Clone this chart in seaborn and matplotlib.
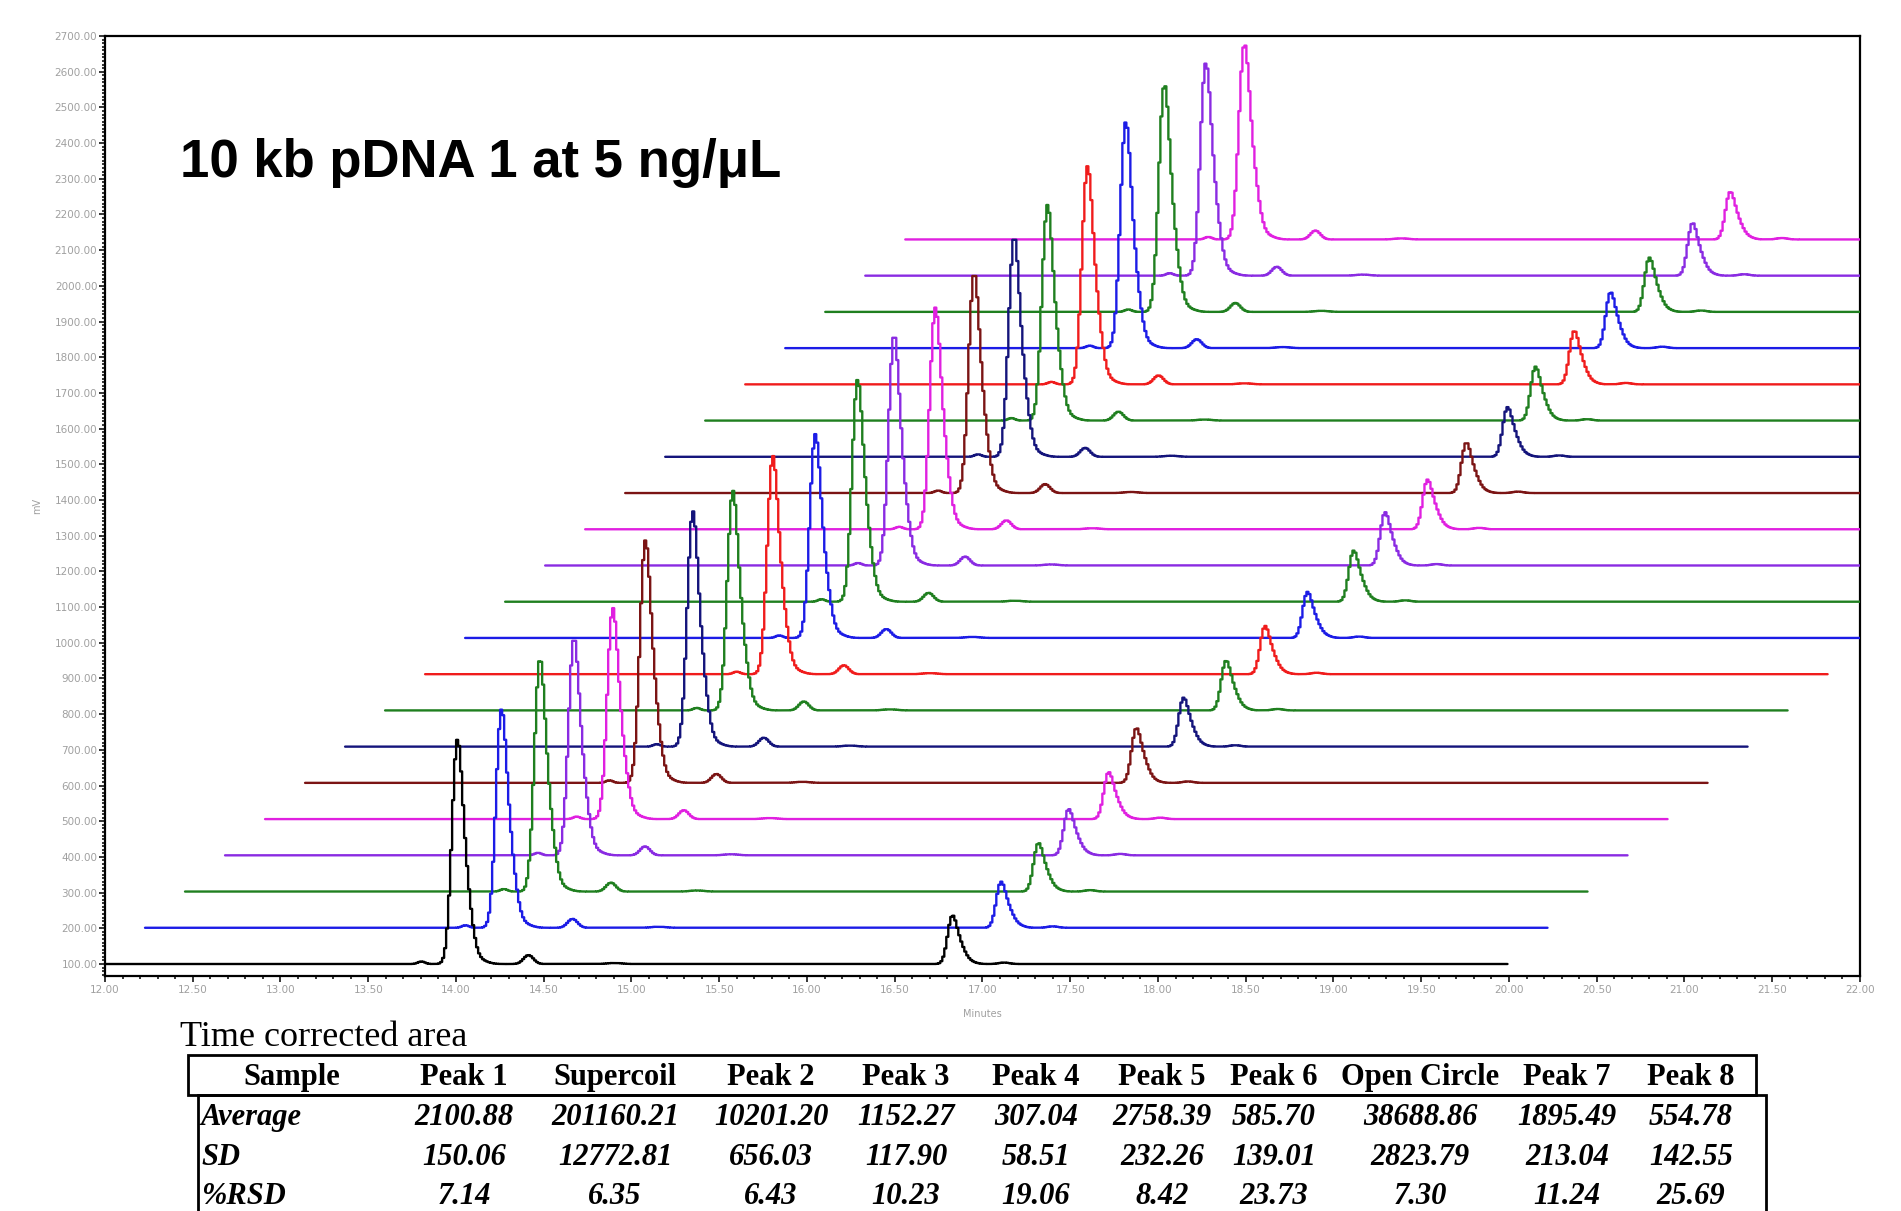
import numpy as np
import pandas as pd
import matplotlib
matplotlib.use('Agg')
import matplotlib.pyplot as plt
import seaborn as sns
from matplotlib.patches import Rectangle
from matplotlib.ticker import MultipleLocator, FormatStrFormatter

W, H = 1901, 1211

# 21 stacked CE runs, listed bottom to top
run_colors = ['#000000', '#1c1ce6', '#1f7f1f', '#8a2be2', '#e020e0', '#7b1414', '#14147b',
              '#1f7f1f', '#f01c1c', '#1c1ce6', '#1f7f1f', '#8a2be2', '#e020e0', '#7b1414',
              '#14147b', '#1f7f1f', '#f01c1c', '#1c1ce6', '#1f7f1f', '#8a2be2', '#e020e0']
supercoil_min = [14.003, 14.026, 14.017, 13.983, 13.976, 13.934, 13.976, 13.976, 13.976, 13.990,
                 14.003, 13.983, 13.990, 13.983, 13.983, 13.945, 13.945, 13.935, 13.927, 13.935, 13.927]
supercoil_mv = [628, 611, 645, 601, 591, 679, 659, 615, 611, 571,
                621, 638, 621, 608, 608, 604, 611, 632, 632, 594, 543]
open_circle_min = [16.823, 16.872, 16.857, 16.801, 16.801, 16.731, 16.772, 16.786, 16.780, 16.794,
                   16.829, 16.780, 16.794, 16.787, 16.794, 16.725, 16.718, 16.697, 16.690, 16.708, 16.695]
open_circle_mv = [135, 129, 135, 129, 131, 152, 137, 138, 135, 129,
                  143, 149, 139, 139, 139, 151, 148, 155, 152, 146, 132]

# small peaks relative to the main ones: (offset min, height mV, width min)
sc_side_peaks = [(-0.20, 7, 0.02), (0.14, 9, 0.04), (0.41, 25, 0.028), (0.90, 3, 0.04)]
oc_side_peaks = [(0.10, 7, 0.035), (0.30, 4, 0.03)]

run_offset_mv = 101.5   # vertical stacking offset
run_offset_min = 0.228  # horizontal stacking offset
run_start, run_end = 12.0, 20.0

# table
table_columns = ['Sample', 'Peak 1', 'Supercoil', 'Peak 2', 'Peak 3', 'Peak 4', 'Peak 5',
                 'Peak 6', 'Open Circle', 'Peak 7', 'Peak 8']
row_labels = ['Average', 'SD', '%RSD']
area_avg = [2100.88, 201160.21, 10201.20, 1152.27, 307.04, 2758.39, 585.70, 38688.86, 1895.49, 554.78]
area_sd = [150.06, 12772.81, 656.03, 117.90, 58.51, 232.26, 139.01, 2823.79, 213.04, 142.55]
area_rsd = [7.14, 6.35, 6.43, 10.23, 19.06, 8.42, 23.73, 7.30, 11.24, 25.69]


def tailed_peak(t, t0, h, w, tail):
    main = np.exp(-0.5 * ((t - t0) / w) ** 2)
    back = tail * np.exp(-0.5 * ((t - t0 - 1.6 * w) / (1.3 * w)) ** 2)
    s = main + back
    return h * s / s.max()


t = np.arange(run_start, run_end + 1e-9, 0.0114)
frames = []
for i in range(len(run_colors)):
    y = np.zeros_like(t)
    y += tailed_peak(t, supercoil_min[i], supercoil_mv[i], 0.029, 0.45)
    y += tailed_peak(t, open_circle_min[i], open_circle_mv[i], 0.025, 0.55)
    for dt, hh, ww in sc_side_peaks:
        y += hh * np.exp(-0.5 * ((t - supercoil_min[i] - dt) / ww) ** 2)
    for dt, hh, ww in oc_side_peaks:
        y += hh * np.exp(-0.5 * ((t - open_circle_min[i] - dt) / ww) ** 2)
    frames.append(pd.DataFrame({'run': i,
                                'minutes': t + run_offset_min * i,
                                'mV': y + 100 + run_offset_mv * i}))
df = pd.concat(frames, ignore_index=True)

sns.set_style('white')
plt.rcParams['font.family'] = ['DejaVu Sans']
plt.rcParams['text.color'] = 'black'

fig = plt.figure(figsize=(W / 100, H / 100), dpi=100)
ax = fig.add_axes([105 / W, 1 - 976 / H, 1755 / W, 940 / H])

for i, c in enumerate(run_colors):
    sns.lineplot(data=df[df['run'] == i], x='minutes', y='mV', color=c, ax=ax,
                 estimator=None, sort=False, drawstyle='steps-mid', lw=1.7,
                 zorder=100 - i, legend=False)

ax.set_xlim(12, 22)
ax.set_ylim(66.4, 2700)
ax.xaxis.set_major_locator(MultipleLocator(0.5))
ax.xaxis.set_minor_locator(MultipleLocator(0.1))
ax.yaxis.set_major_locator(MultipleLocator(100))
ax.yaxis.set_minor_locator(MultipleLocator(10))
ax.xaxis.set_major_formatter(FormatStrFormatter('%.2f'))
ax.yaxis.set_major_formatter(FormatStrFormatter('%.2f'))
ax.tick_params(which='both', direction='out', color='black', width=1.1,
               labelsize=7.5, labelcolor='#a0a0a0')
ax.tick_params(which='major', length=4.5)
ax.tick_params(which='minor', length=2.5)
ax.tick_params(axis='x', pad=2)
ax.tick_params(axis='y', pad=1)
ax.tick_params(bottom=True, left=True, top=False, right=False, which='both')
for s in ax.spines.values():
    s.set_visible(True)
    s.set_color('black')
    s.set_linewidth(1.6)

ax.set_xlabel('Minutes', fontsize=7, color='#a0a0a0')
ax.set_ylabel('mV', fontsize=7, color='#a0a0a0')
ax.xaxis.set_label_coords(0.5, -0.035)
ax.yaxis.set_label_coords(-0.036, 0.5)

ax.text(180 / W, 1 - 177 / H, '10 kb pDNA 1 at 5 ng/\u03bcL', transform=fig.transFigure,
        fontsize=38, fontweight='bold', family='Liberation Sans', color='black',
        va='baseline', ha='left')


def fx(x):
    return x / W


def fy(y):
    return 1 - y / H


serif = 'Liberation Serif'
fig.text(fx(180), fy(1046), 'Time corrected area', fontsize=26, family=serif,
         color='black', va='baseline', ha='left')

fig.add_artist(Rectangle((fx(188), fy(1095)), fx(1756) - fx(188), fy(1055) - fy(1095),
                         transform=fig.transFigure, fill=False, lw=2, ec='black'))
fig.add_artist(Rectangle((fx(198), fy(1230)), fx(1766) - fx(198), fy(1095) - fy(1230),
                         transform=fig.transFigure, fill=False, lw=2, ec='black', clip_on=False))

col_x = [292, 464, 615, 771, 906, 1036, 1162, 1274, 1420, 1567, 1691]
row_y = [1114, 1154, 1193]

for name, x in zip(table_columns, col_x):
    fig.text(fx(x), fy(1074), name, fontsize=22, family=serif, fontweight='bold',
             color='black', ha='center', va='center_baseline')

for label, vals, y in zip(row_labels, [area_avg, area_sd, area_rsd], row_y):
    fig.text(fx(201), fy(y), label, fontsize=22, family=serif, fontweight='bold',
             style='italic', color='black', ha='left', va='center_baseline')
    for v, x in zip(vals, col_x[1:]):
        fig.text(fx(x), fy(y), f'{v:.2f}', fontsize=22, family=serif, fontweight='bold',
                 style='italic', color='black', ha='center', va='center_baseline')

fig.savefig('out.png', dpi=100)
